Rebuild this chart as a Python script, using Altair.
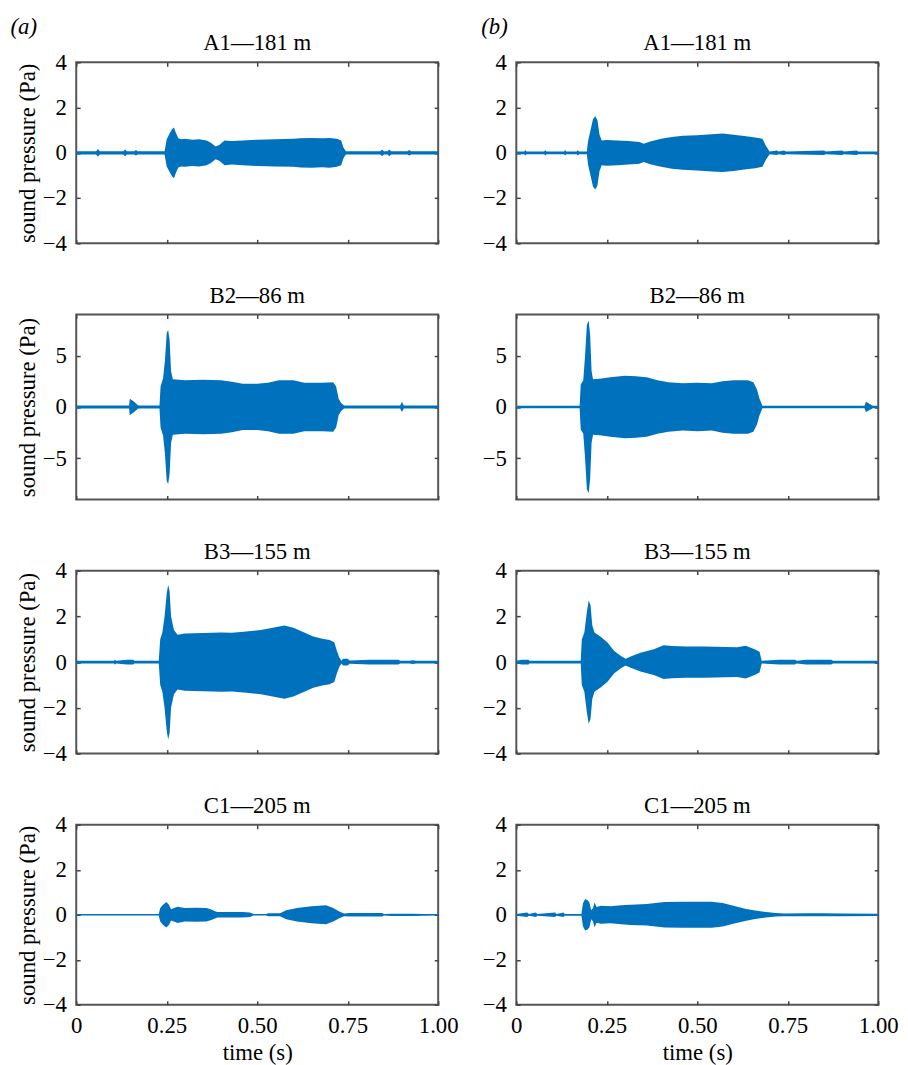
import altair as alt
import pandas as pd

BLUE = "#0072BD"
FONT = "Liberation Serif"
TICK = "#444444"
FS = 23

x_ticks = [0, 0.25, 0.5, 0.75, 1.0]
y_ticks_small = [-4, -2, 0, 2, 4]
y_ticks_big = [-5, 0, 5]
panel_titles = ["A1—181 m", "B2—86 m", "B3—155 m", "C1—205 m"]
column_labels = ["(a)", "(b)"]

# envelope of each recording: time (s) and half-amplitude of the trace (Pa)
a_A1_t = [0, 0.055, 0.06, 0.065, 0.13, 0.135, 0.14, 0.16, 0.165, 0.17, 0.244, 0.25, 0.258, 0.265,
          0.27, 0.275, 0.282, 0.29, 0.30, 0.32, 0.34, 0.36, 0.372, 0.385, 0.395, 0.41, 0.43, 0.46,
          0.50, 0.55, 0.60, 0.62, 0.65, 0.68, 0.70, 0.72, 0.732, 0.738, 0.745, 0.84, 0.845, 0.85,
          0.86, 0.865, 0.87, 0.915, 0.92, 0.925, 1.0]
a_A1_amp = [0.07, 0.07, 0.17, 0.07, 0.07, 0.15, 0.07, 0.07, 0.12, 0.07, 0.07, 0.6, 0.85, 1.05,
            1.12, 0.9, 0.65, 0.6, 0.62, 0.58, 0.6, 0.55, 0.45, 0.28, 0.35, 0.55, 0.52, 0.55,
            0.58, 0.6, 0.62, 0.65, 0.66, 0.64, 0.66, 0.62, 0.55, 0.25, 0.07, 0.07, 0.15, 0.07,
            0.07, 0.15, 0.07, 0.07, 0.12, 0.07, 0.07]

b_A1_t = [0, 0.022, 0.025, 0.028, 0.077, 0.08, 0.083, 0.132, 0.135, 0.138, 0.167, 0.17, 0.173,
          0.195, 0.198, 0.205, 0.212, 0.218, 0.224, 0.23, 0.236, 0.25, 0.28, 0.31, 0.34, 0.352,
          0.37, 0.40, 0.43, 0.46, 0.50, 0.54, 0.57, 0.60, 0.63, 0.66, 0.68, 0.69, 0.70, 0.72,
          0.725, 0.74, 0.745, 0.85, 0.855, 0.90, 0.905, 0.94, 0.945, 1.0]
b_A1_amp = [0.06, 0.06, 0.12, 0.06, 0.06, 0.12, 0.06, 0.06, 0.12, 0.06, 0.06, 0.12, 0.06,
            0.06, 0.5, 1.0, 1.5, 1.62, 1.45, 0.8, 0.55, 0.57, 0.55, 0.52, 0.48, 0.4,
            0.5, 0.62, 0.7, 0.75, 0.78, 0.82, 0.85, 0.8, 0.74, 0.68, 0.62, 0.3, 0.06, 0.1,
            0.06, 0.1, 0.06, 0.1, 0.06, 0.1, 0.06, 0.1, 0.06, 0.06]

a_B2_t = [0, 0.146, 0.148, 0.16, 0.171, 0.23, 0.233, 0.24, 0.245, 0.25, 0.254, 0.258, 0.262,
          0.267, 0.30, 0.35, 0.40, 0.43, 0.46, 0.50, 0.53, 0.56, 0.60, 0.63, 0.68, 0.71, 0.718,
          0.725, 0.732, 0.74, 0.895, 0.90, 0.905, 1.0]
a_B2_amp = [0.15, 0.15, 0.8, 0.5, 0.15, 0.15, 2.0, 2.8, 4.5, 7.2, 7.5, 6.5, 3.5,
            2.7, 2.6, 2.65, 2.6, 2.45, 2.25, 2.25, 2.35, 2.6, 2.6, 2.35, 2.35, 2.4, 2.0,
            0.8, 0.4, 0.15, 0.15, 0.5, 0.15, 0.15]

b_B2_t = [0, 0.175, 0.178, 0.185, 0.19, 0.195, 0.2, 0.204, 0.208, 0.212, 0.23, 0.26, 0.30,
          0.33, 0.36, 0.39, 0.42, 0.46, 0.50, 0.54, 0.57, 0.60, 0.64, 0.655, 0.665, 0.672,
          0.68, 0.962, 0.966, 0.985, 1.0]
b_B2_amp = [0.12, 0.12, 2.2, 2.6, 5.0, 8.0, 8.4, 7.0, 3.5, 2.7, 2.75, 2.9, 3.05,
            3.0, 2.9, 2.6, 2.4, 2.3, 2.35, 2.3, 2.5, 2.6, 2.6, 2.4, 1.7, 0.8,
            0.12, 0.12, 0.5, 0.12, 0.12]

a_B3_t = [0, 0.105, 0.107, 0.11, 0.14, 0.158, 0.16, 0.228, 0.232, 0.238, 0.244, 0.25, 0.254,
          0.258, 0.262, 0.27, 0.28, 0.30, 0.35, 0.40, 0.43, 0.47, 0.51, 0.55, 0.575, 0.60,
          0.63, 0.655, 0.68, 0.70, 0.713, 0.72, 0.727, 0.733, 0.737, 0.75, 0.755, 0.81, 0.89,
          0.895, 0.92, 0.93, 0.94, 1.0]
a_B3_amp = [0.06, 0.06, 0.12, 0.06, 0.1, 0.1, 0.06, 0.06, 1.0, 1.3, 2.0, 3.0, 3.38,
            3.1, 2.0, 1.4, 1.2, 1.25, 1.27, 1.3, 1.28, 1.34, 1.4, 1.52, 1.6, 1.5,
            1.3, 1.12, 1.02, 0.97, 0.87, 0.5, 0.2, 0.06, 0.15, 0.15, 0.07, 0.1, 0.1,
            0.06, 0.06, 0.08, 0.06, 0.06]

b_B3_t = [0, 0.015, 0.034, 0.036, 0.178, 0.181, 0.188, 0.195, 0.2, 0.205, 0.21, 0.216, 0.234,
          0.252, 0.27, 0.288, 0.302, 0.316, 0.343, 0.38, 0.407, 0.43, 0.47, 0.52, 0.58, 0.61,
          0.634, 0.66, 0.672, 0.678, 0.725, 0.77, 0.775, 0.80, 0.87, 0.875, 1.0]
b_B3_amp = [0.06, 0.1, 0.1, 0.06, 0.06, 1.0, 1.3, 2.2, 2.7, 2.5, 1.6, 1.3, 1.1,
            0.86, 0.5, 0.28, 0.15, 0.25, 0.41, 0.56, 0.74, 0.7, 0.68, 0.68, 0.66, 0.65,
            0.72, 0.55, 0.45, 0.06, 0.1, 0.1, 0.06, 0.1, 0.1, 0.06, 0.06]

a_C1_t = [0, 0.228, 0.232, 0.24, 0.249, 0.256, 0.262, 0.27, 0.28, 0.30, 0.33, 0.36, 0.375,
          0.385, 0.39, 0.42, 0.46, 0.48, 0.49, 0.525, 0.53, 0.563, 0.58, 0.61, 0.65, 0.69,
          0.71, 0.727, 0.74, 0.755, 0.845, 0.85, 0.87, 0.90, 0.93, 0.96, 1.0]
a_C1_amp = [0.03, 0.03, 0.3, 0.45, 0.57, 0.45, 0.25, 0.3, 0.36, 0.3, 0.31, 0.3, 0.22,
            0.15, 0.12, 0.12, 0.12, 0.1, 0.03, 0.03, 0.07, 0.07, 0.2, 0.3, 0.38, 0.42,
            0.3, 0.15, 0.06, 0.08, 0.08, 0.03, 0.05, 0.05, 0.05, 0.04, 0.03]

b_C1_t = [0, 0.03, 0.035, 0.054, 0.058, 0.107, 0.111, 0.13, 0.134, 0.18, 0.184, 0.19, 0.197,
          0.202, 0.207, 0.212, 0.216, 0.222, 0.234, 0.26, 0.29, 0.316, 0.36, 0.41, 0.46, 0.50,
          0.54, 0.57, 0.608, 0.635, 0.66, 0.69, 0.717, 0.74, 0.80, 0.85, 0.90, 1.0]
b_C1_amp = [0.04, 0.1, 0.04, 0.1, 0.04, 0.1, 0.04, 0.1, 0.04, 0.04, 0.5, 0.7, 0.65,
            0.55, 0.2, 0.3, 0.55, 0.35, 0.4, 0.38, 0.42, 0.45, 0.48, 0.57, 0.58, 0.58,
            0.58, 0.52, 0.37, 0.26, 0.19, 0.12, 0.08, 0.06, 0.07, 0.07, 0.06, 0.05]

columns = [
    [(a_A1_t, a_A1_amp), (a_B2_t, a_B2_amp), (a_B3_t, a_B3_amp), (a_C1_t, a_C1_amp)],
    [(b_A1_t, b_A1_amp), (b_B2_t, b_B2_amp), (b_B3_t, b_B3_amp), (b_C1_t, b_C1_amp)],
]
row_heights = [183, 187, 185, 182]


def panel(t, amp, row, col):
    df = pd.DataFrame({"t": t, "hi": amp, "lo": [-v for v in amp]})
    big = row == 1
    ydom = [-9, 9] if big else [-4, 4]
    yvals = y_ticks_big if big else y_ticks_small
    bottom = row == 3
    left = col == 0
    tick_style = dict(domain=False, grid=False, ticks=True, tickSize=4, offset=-4,
                      tickColor=TICK, tickWidth=1.5)
    label_style = dict(labelFont=FONT, labelFontSize=FS, labelColor="black",
                       labelPadding=10, labelOverlap=False, labelFlush=False)
    title_style = dict(titleFont=FONT, titleFontSize=FS, titleFontWeight="normal",
                       titleColor="black")
    if bottom:
        xaxis = alt.Axis(values=x_ticks, orient="bottom", labels=True, title="time (s)",
                         titlePadding=4,
                         labelExpr="datum.value == 0 ? '0' : format(datum.value, '.2f')",
                         **tick_style, **label_style, **title_style)
    else:
        xaxis = alt.Axis(values=x_ticks, orient="bottom", labels=False, title=None, **tick_style)
    if left:
        yaxis = alt.Axis(values=yvals, orient="left", title="sound pressure (Pa)",
                         titlePadding=3, format="d", **tick_style, **label_style, **title_style)
    else:
        yaxis = alt.Axis(values=yvals, orient="left", title=None, format="d",
                         **tick_style, **label_style)
    xs = alt.Scale(domain=[0, 1], nice=False, zero=False)
    ys = alt.Scale(domain=ydom, nice=False, zero=False)
    base = alt.Chart(df)
    area = base.mark_area(color=BLUE, interpolate="linear", opacity=1).encode(
        x=alt.X("t:Q", scale=xs, axis=xaxis),
        y=alt.Y("hi:Q", scale=ys, axis=yaxis),
        y2="lo:Q",
    )
    mirror = base.mark_area(opacity=0).encode(
        x=alt.X("t:Q", scale=xs, axis=alt.Axis(values=x_ticks, orient="top", labels=False,
                                                title=None, **tick_style)),
        y=alt.Y("hi:Q", scale=ys, axis=alt.Axis(values=yvals, orient="right", labels=False,
                                                 title=None, **tick_style)),
        y2="lo:Q",
    )
    toff = 6 if big else -4
    return alt.layer(area, mirror).resolve_axis(x="independent", y="independent").properties(
        width=366,
        height=row_heights[row],
        title=alt.TitleParams(panel_titles[row], font=FONT, fontSize=FS, fontWeight="normal",
                              color="black", frame="group", anchor="middle", offset=toff),
    )


cols = []
for c, col in enumerate(columns):
    panels = [panel(t, a, r, c) for r, (t, a) in enumerate(col)]
    cols.append(
        alt.vconcat(*panels, spacing=72, bounds="flush").properties(
            title=alt.TitleParams(column_labels[c], font=FONT, fontSize=FS, fontStyle="italic",
                                  fontWeight="normal", color="black", anchor="start",
                                  frame="bounds", offset=-7, dx=(-5 if c == 0 else 0))
        )
    )

chart = alt.hconcat(*cols, spacing=21, bounds="full").properties(
    padding={"left": 2, "top": 2, "right": 0, "bottom": 0}
).configure_view(stroke="#555555", strokeWidth=2)

chart.save("out.html", embed_options={"renderer": "svg", "actions": False})
